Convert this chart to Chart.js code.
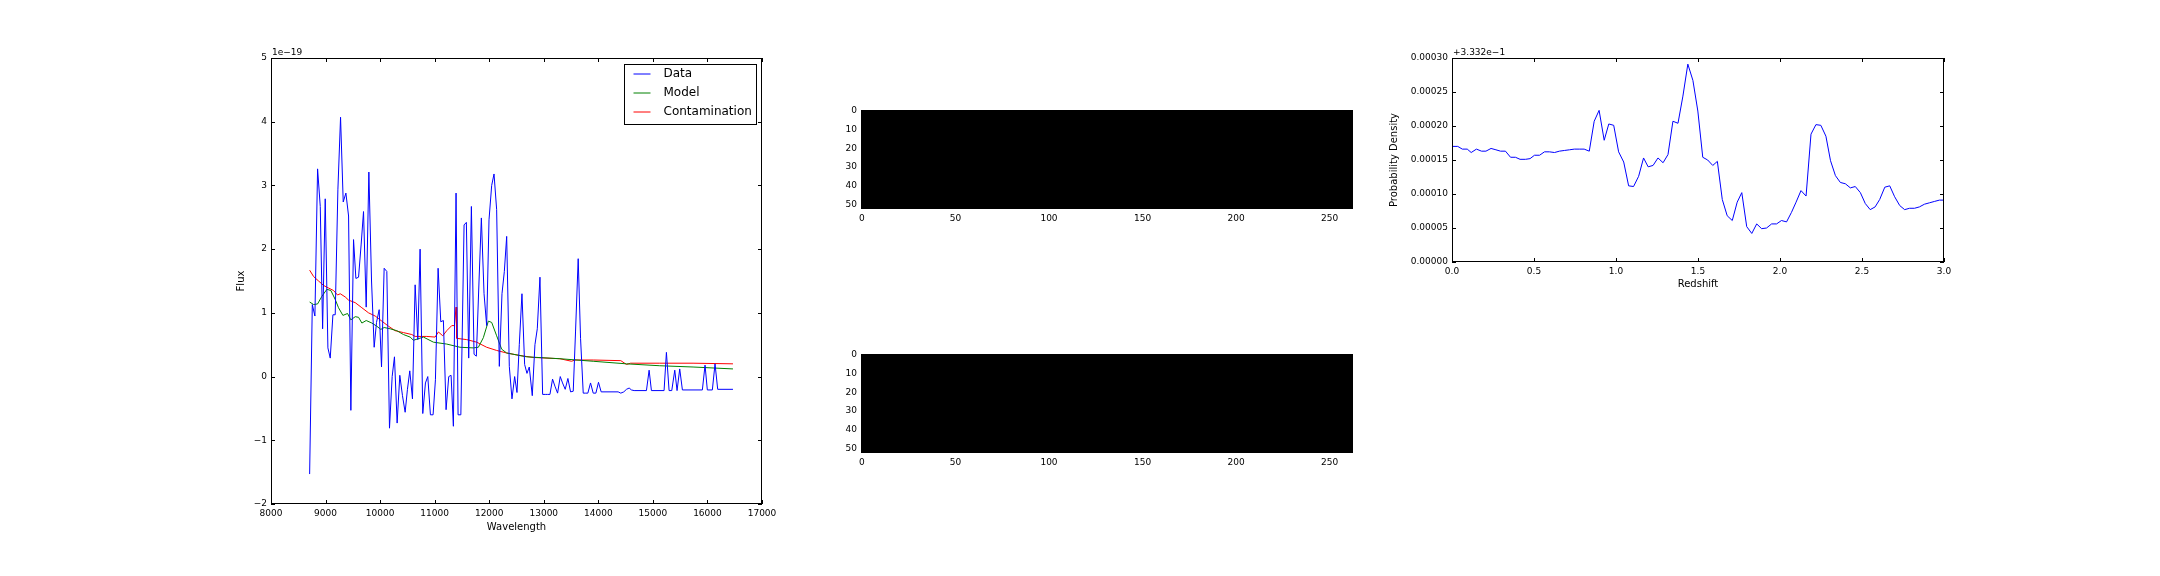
<!DOCTYPE html>
<html>
<head>
<meta charset="utf-8">
<script src="https://cdn.jsdelivr.net/npm/chart.js@4.4.0/dist/chart.umd.min.js"></script>
<style>
  body { margin: 0; background: #fff; width: 2160px; height: 576px; position: relative; overflow: hidden; }
  canvas { position: absolute; }
</style>
</head>
<body>
<canvas id="spec" width="551" height="507" style="left:231px;top:30px"></canvas>
<canvas id="img1" width="538" height="130" style="left:830px;top:100px"></canvas>
<canvas id="img2" width="538" height="130" style="left:830px;top:344px"></canvas>
<canvas id="pdf" width="581" height="259" style="left:1384px;top:35px"></canvas>
<script>
// spectrum panel, flux in units of 1e-19
let wave = [
  8708, 8757, 8805, 8854, 8903, 8946, 8994, 9043, 9086, 9135,
  9177, 9226, 9275, 9324, 9373, 9422, 9464, 9513, 9556, 9605,
  9653, 9696, 9745, 9794, 9843, 9891, 9934, 9983, 10026, 10074,
  10123, 10172, 10221, 10263, 10312, 10361, 10410, 10459, 10501, 10544,
  10593, 10642, 10691, 10733, 10782, 10831, 10874, 10922, 10971, 11014,
  11063, 11112, 11160, 11209, 11258, 11301, 11343, 11392, 11429, 11480,
  11539, 11581, 11624, 11673, 11722, 11764, 11813, 11856, 11905, 11953,
  11996, 12045, 12088, 12136, 12185, 12234, 12277, 12320, 12368, 12417,
  12466, 12509, 12551, 12600, 12649, 12692, 12734, 12789, 12838, 12881,
  12930, 12979, 13027, 13070, 13113, 13161, 13204, 13253, 13302, 13344,
  13393, 13442, 13491, 13540, 13582, 13631, 13674, 13723, 13765, 13808,
  13857, 13906, 13955, 14003, 14052, 14363, 14412, 14467, 14516, 14565,
  14607, 14656, 14882, 14931, 14973, 15205, 15248, 15297, 15346, 15401,
  15443, 15492, 15541, 15907, 15956, 15998, 16090, 16139, 16188, 16468
];
let flux = [
  -1.53, 1.13, 0.95, 3.26, 2.67, 0.75, 2.79, 0.45, 0.29, 0.97,
  0.97, 2.93, 4.07, 2.74, 2.88, 2.52, -0.53, 2.15, 1.54, 1.56,
  2.08, 2.59, 1.09, 3.21, 1.50, 0.46, 0.85, 1.05, 0.15, 1.70,
  1.65, -0.81, 0.00, 0.31, -0.73, 0.02, -0.30, -0.56, -0.20, 0.09,
  -0.35, 1.44, 0.58, 2.00, -0.58, -0.10, 0.00, -0.60, -0.60, -0.05,
  1.70, 0.86, 0.88, -0.52, 0.00, 0.02, -0.78, 2.88, -0.60, -0.60,
  2.38, 2.42, 0.29, 2.67, 0.35, 0.32, 1.50, 2.49, 1.30, 0.80,
  2.46, 3.00, 3.18, 2.62, 0.16, 1.30, 1.65, 2.20, 0.16, -0.35,
  0.00, -0.25, 0.50, 1.30, 0.19, 0.05, 0.15, -0.30, 0.50, 0.75,
  1.56, -0.28, -0.28, -0.28, -0.28, -0.04, -0.15, -0.26, 0.00, -0.10,
  -0.20, -0.03, -0.24, -0.23, 0.70, 1.85, 0.60, -0.26, -0.26, -0.26,
  -0.10, -0.26, -0.26, -0.09, -0.24, -0.24, -0.26, -0.24, -0.20, -0.18,
  -0.21, -0.22, -0.22, 0.10, -0.22, -0.22, 0.38, -0.22, -0.22, 0.10,
  -0.22, 0.12, -0.21, -0.21, 0.18, -0.21, -0.21, 0.20, -0.20, -0.20
];
let modelWave = [8708, 8781, 8854, 8933, 9025, 9098, 9177, 9238, 9318, 9403,
  9464, 9544, 9605, 9666, 9745, 9849, 9940, 10013, 10074, 10184,
  10306, 10428, 10550, 10611, 10794, 10977, 11221, 11465, 11709, 11801,
  11892, 11984, 12045, 12136, 12228, 12320, 12686, 13296, 13906, 14516,
  15126, 15736, 16468];
let modelFlux = [1.17, 1.13, 1.14, 1.26, 1.37, 1.35, 1.21, 1.08, 0.96, 0.99,
  0.89, 0.94, 0.93, 0.84, 0.88, 0.84, 0.79, 0.74, 0.77, 0.75,
  0.72, 0.66, 0.62, 0.57, 0.62, 0.54, 0.51, 0.46, 0.45, 0.46,
  0.61, 0.87, 0.85, 0.64, 0.43, 0.37, 0.31, 0.28, 0.24, 0.20,
  0.17, 0.15, 0.12];
let contamWave = [8708, 8781, 8872, 8964, 9055, 9147, 9220, 9269, 9360, 9422,
  9544, 9666, 9788, 9910, 10032, 10154, 10276, 10428, 10581, 10642,
  10855, 11008, 11069, 11148, 11221, 11313, 11362, 11392, 11404, 11587,
  11770, 11953, 12136, 12320, 12564, 12808, 13296, 13510, 13570, 13906,
  14412, 14516, 14589, 15126, 15736, 16468];
let contamFlux = [1.67, 1.57, 1.50, 1.43, 1.39, 1.35, 1.28, 1.30, 1.25, 1.20,
  1.16, 1.08, 1.00, 0.95, 0.87, 0.79, 0.72, 0.69, 0.66, 0.63,
  0.63, 0.62, 0.70, 0.64, 0.72, 0.80, 0.80, 1.09, 0.60, 0.58,
  0.54, 0.46, 0.41, 0.37, 0.33, 0.30, 0.28, 0.24, 0.26, 0.26,
  0.25, 0.19, 0.21, 0.21, 0.21, 0.20];
let specXTicks = [8000, 9000, 10000, 11000, 12000, 13000, 14000, 15000, 16000, 17000];
let specYTicks = [-2, -1, 0, 1, 2, 3, 4, 5];

// 2D cutouts: every pixel is zero
let imgCols = 263;
let imgRows = 53;
let imgPixel = 0;
let imgXTicks = [0, 50, 100, 150, 200, 250];
let imgYTicks = [0, 10, 20, 30, 40, 50];

// redshift probability, shown as offset from 0.3332
let pdfOffset = '+3.332e\u22121';
let redshift = [
  0.000, 0.035, 0.063, 0.093, 0.117, 0.149, 0.180, 0.207, 0.238, 0.268,
  0.296, 0.326, 0.357, 0.387, 0.415, 0.448, 0.476, 0.503, 0.534, 0.564,
  0.594, 0.625, 0.655, 0.685, 0.716, 0.746, 0.776, 0.806, 0.837, 0.867,
  0.897, 0.928, 0.956, 0.986, 1.016, 1.047, 1.077, 1.107, 1.138, 1.168,
  1.196, 1.226, 1.256, 1.287, 1.317, 1.347, 1.378, 1.408, 1.438, 1.469,
  1.499, 1.529, 1.559, 1.590, 1.618, 1.648, 1.678, 1.709, 1.739, 1.767,
  1.797, 1.828, 1.858, 1.888, 1.918, 1.949, 1.979, 2.009, 2.040, 2.070,
  2.098, 2.128, 2.159, 2.189, 2.219, 2.249, 2.280, 2.308, 2.338, 2.368,
  2.399, 2.429, 2.459, 2.490, 2.520, 2.550, 2.580, 2.608, 2.639, 2.669,
  2.699, 2.730, 2.760, 2.790, 2.820, 2.850, 2.881, 2.911, 2.941, 2.972,
  3.000
];
let pdf = [
  0.000170, 0.000170, 0.000166, 0.000166, 0.000161, 0.000166, 0.000163, 0.000163, 0.000167, 0.000165,
  0.000163, 0.000163, 0.000154, 0.000154, 0.000151, 0.000151, 0.000152, 0.000157, 0.000157, 0.000162,
  0.000162, 0.000161, 0.000163, 0.000164, 0.000165, 0.000166, 0.000166, 0.000166, 0.000163, 0.000207,
  0.000223, 0.000179, 0.000203, 0.000201, 0.000162, 0.000147, 0.000112, 0.000111, 0.000126, 0.000153,
  0.000140, 0.000142, 0.000153, 0.000146, 0.000158, 0.000207, 0.000204, 0.000244, 0.000291, 0.000267,
  0.000222, 0.000154, 0.000150, 0.000142, 0.000148, 0.000092, 0.000068, 0.000061, 0.000088, 0.000102,
  0.000052, 0.000042, 0.000056, 0.000049, 0.000050, 0.000056, 0.000056, 0.000061, 0.000059, 0.000073,
  0.000088, 0.000105, 0.000097, 0.000188, 0.000202, 0.000201, 0.000185, 0.000149, 0.000127, 0.000117,
  0.000115, 0.000109, 0.000111, 0.000102, 0.000086, 0.000077, 0.000081, 0.000092, 0.000110, 0.000112,
  0.000096, 0.000083, 0.000077, 0.000079, 0.000079, 0.000081, 0.000085, 0.000087, 0.000089, 0.000091,
  0.000091
];
let pdfXTicks = [0, 0.5, 1, 1.5, 2, 2.5, 3];
let pdfYTicks = [0, 0.00005, 0.0001, 0.00015, 0.0002, 0.00025, 0.0003];

const FONT = '"DejaVu Sans", sans-serif';
const pts = (xs, ys) => xs.map((x, i) => ({x: x, y: ys[i]}));
const gray = v => { let c = Math.round(v * 255); return 'rgb(' + c + ',' + c + ',' + c + ')'; };
const minus = v => v < 0 ? '\u2212' + Math.abs(v) : String(v);

// box, inward ticks, offset text and legend, drawn the matplotlib way
const frame = {
  id: 'frame',
  afterDatasetsDraw(chart, args, opts) {
    const ctx = chart.ctx, a = chart.chartArea;
    const xs = chart.scales.x, ys = chart.scales.y;
    let l = Math.round(a.left), r = Math.round(a.right);
    let t = Math.round(a.top), b = Math.round(a.bottom);
    ctx.save();
    ctx.strokeStyle = '#000';
    ctx.lineWidth = 1;
    ctx.beginPath();
    xs.ticks.forEach((tk, i) => {
      let p = Math.round(xs.getPixelForTick(i)) + 0.5;
      ctx.moveTo(p, b); ctx.lineTo(p, b - 4);
      ctx.moveTo(p, t); ctx.lineTo(p, t + 4);
    });
    ys.ticks.forEach((tk, i) => {
      let p = Math.round(ys.getPixelForTick(i)) + 0.5;
      ctx.moveTo(l, p); ctx.lineTo(l + 4, p);
      ctx.moveTo(r, p); ctx.lineTo(r - 4, p);
    });
    ctx.stroke();
    ctx.strokeRect(l + 0.5, t + 0.5, r - l - 1, b - t - 1);
    ctx.fillStyle = '#000';
    if (opts.offsetText) {
      ctx.font = '9px ' + FONT;
      ctx.textAlign = 'left';
      ctx.textBaseline = 'alphabetic';
      ctx.fillText(opts.offsetText, l + 1, t - 3);
    }
    if (opts.legend) {
      let bw = 132, bh = 60;
      let bx = r - 6 - bw + 0.5, by = t + 6 + 0.5;
      ctx.fillStyle = '#fff';
      ctx.fillRect(bx, by, bw, bh);
      ctx.strokeRect(bx, by, bw, bh);
      ctx.font = '12px ' + FONT;
      ctx.textBaseline = 'middle';
      chart.data.datasets.forEach((d, i) => {
        let y = by + 9.5 + i * 19;
        ctx.strokeStyle = d.borderColor;
        ctx.beginPath();
        ctx.moveTo(bx + 9, y); ctx.lineTo(bx + 26, y);
        ctx.stroke();
        ctx.fillStyle = '#000';
        ctx.fillText(d.label, bx + 39, y);
      });
    }
    ctx.restore();
  }
};

function axis(tickVals, fmt, extra) {
  return Object.assign({
    type: 'linear',
    grid: {display: false, drawTicks: false},
    border: {display: false},
    afterBuildTicks: s => { s.ticks = tickVals.map(v => ({value: v})); },
    ticks: {autoSkip: false, maxRotation: 0, padding: 4, color: '#000',
      font: {family: FONT, size: 9}, callback: v => fmt(v)}
  }, extra);
}

function fixSize(w, h) {
  return s => { if (w !== null) s.width = w; if (h !== null) s.height = h; };
}

function title(text) {
  return {display: true, text: text, color: '#000', padding: {top: 4, bottom: 4},
    font: {family: FONT, size: 10}};
}

const base = {
  responsive: false,
  animation: false,
  devicePixelRatio: 1,
  plugins: {legend: {display: false}, tooltip: {enabled: false}}
};

function line(label, data, color) {
  return {label: label, data: data, borderColor: color, borderWidth: 1,
    pointRadius: 0, tension: 0, fill: false};
}

new Chart(document.getElementById('spec'), {
  type: 'line',
  data: {datasets: [
    line('Data', pts(wave, flux), '#0000ff'),
    line('Model', pts(modelWave, modelFlux), '#008000'),
    line('Contamination', pts(contamWave, contamFlux), '#ff0000')
  ]},
  options: Object.assign({}, base, {
    layout: {padding: {left: 0, top: 28, right: 20, bottom: 0}},
    plugins: Object.assign({}, base.plugins, {frame: {offsetText: '1e\u221219', legend: true}}),
    scales: {
      x: axis(specXTicks, v => String(v), {min: 8000, max: 17000, title: title('Wavelength'),
        afterFit: fixSize(null, 33)}),
      y: axis(specYTicks, minus, {min: -2, max: 5, title: title('Flux'),
        afterFit: fixSize(40, null)})
    }
  }),
  plugins: [frame]
});

function cutout(id) {
  new Chart(document.getElementById(id), {
    type: 'line',
    data: {datasets: [{
      data: [{x: -0.5, y: -0.5}, {x: imgCols - 0.5, y: -0.5}],
      borderWidth: 0, pointRadius: 0,
      backgroundColor: gray(imgPixel),
      fill: {value: imgRows - 0.5}
    }]},
    options: Object.assign({}, base, {
      layout: {padding: {left: 0, top: 10, right: 15, bottom: 0}},
      plugins: Object.assign({}, base.plugins, {frame: {}}),
      scales: {
        x: axis(imgXTicks, v => String(v), {min: -0.5, max: imgCols - 0.5,
          afterFit: fixSize(null, 21)}),
        y: axis(imgYTicks, v => String(v), {min: -0.5, max: imgRows - 0.5, reverse: true,
          afterFit: fixSize(31, null)})
      }
    }),
    plugins: [frame]
  });
}
cutout('img1');
cutout('img2');

new Chart(document.getElementById('pdf'), {
  type: 'line',
  data: {datasets: [line('P(z)', pts(redshift, pdf), '#0000ff')]},
  options: Object.assign({}, base, {
    layout: {padding: {left: 0, top: 23, right: 21, bottom: 0}},
    plugins: Object.assign({}, base.plugins, {frame: {offsetText: pdfOffset}}),
    scales: {
      x: axis(pdfXTicks, v => v.toFixed(1), {min: 0, max: 3, title: title('Redshift'),
        afterFit: fixSize(null, 32)}),
      y: axis(pdfYTicks, v => v.toFixed(5), {min: 0, max: 0.0003, title: title('Probability Density'),
        afterFit: fixSize(68, null)})
    }
  }),
  plugins: [frame]
});
</script>
</body>
</html>
